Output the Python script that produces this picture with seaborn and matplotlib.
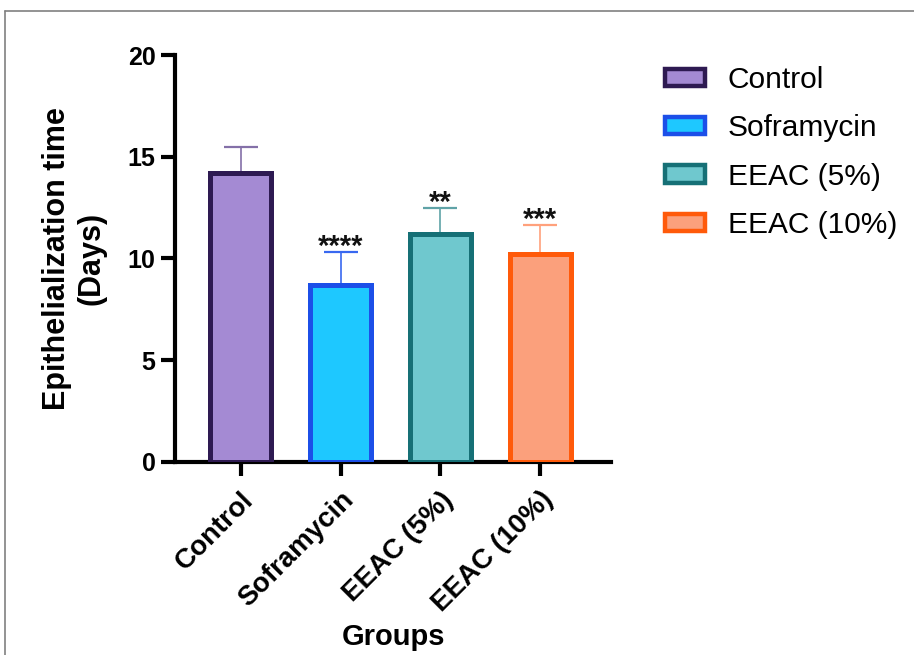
import matplotlib
matplotlib.use("Agg")
import matplotlib.pyplot as plt
from matplotlib.patches import Patch
from matplotlib.lines import Line2D
import seaborn as sns
import pandas as pd

# Group means and standard deviations (days to full epithelialization)
groups = ["Control", "Soframycin", "EEAC (5%)", "EEAC (10%)"]
mean_days = [14.2, 8.7, 11.2, 10.2]
sd_days = [1.3, 1.6, 1.3, 1.45]
signif = ["", "****", "**", "***"]

fill_colors = ["#A48AD3", "#1EC8FF", "#6FC8CE", "#FBA07C"]
edge_colors = ["#2E1A52", "#1C4FE8", "#167076", "#FF5A0A"]
err_colors = ["#8470A8", "#3868F0", "#5FA3A7", "#FFA17C"]

df = pd.DataFrame({"Groups": groups, "Days": mean_days})

sns.set_theme(style="white")
plt.rcParams["font.family"] = ["Liberation Sans", "DejaVu Sans"]
plt.rcParams["text.color"] = "black"
plt.rcParams["axes.labelcolor"] = "black"
plt.rcParams["xtick.color"] = "black"
plt.rcParams["ytick.color"] = "black"

fig = plt.figure(figsize=(9.14, 6.55), dpi=100)
ax = fig.add_axes([0.1915, 0.2951, 0.477, 0.6209])

sns.barplot(data=df, x="Groups", y="Days", hue="Groups", order=groups,
            hue_order=groups, palette=fill_colors, saturation=1, width=0.61,
            errorbar=None, legend=False, ax=ax, zorder=3)

bars = list(ax.patches)
for bar, ec in zip(bars, edge_colors):
    bar.set_edgecolor(ec)
    bar.set_linewidth(3.6)

# upper-only SD error bars and significance marks
for bar, m, sd, c, s in zip(bars, mean_days, sd_days, err_colors, signif):
    xc = bar.get_x() + bar.get_width() / 2
    ax.errorbar(xc, m, yerr=[[0], [sd]], fmt="none", ecolor=c,
                elinewidth=1.2, capsize=12, capthick=1.6, zorder=2)
    if s:
        ax.text(xc, m + sd - 0.15, s, ha="center", va="baseline",
                fontsize=21, fontweight="bold", color="#111111")

ax.set_ylim(0, 20)
ax.set_xlim(-0.66, 3.71)
ax.set_yticks([0, 5, 10, 15, 20])

for side in ["top", "right"]:
    ax.spines[side].set_visible(False)
for side in ["left", "bottom"]:
    ax.spines[side].set_linewidth(3.0)
    ax.spines[side].set_color("black")

ax.tick_params(axis="both", which="major", direction="out", length=10,
               width=3.0, color="black", bottom=True, left=True)
ax.tick_params(axis="y", labelsize=18, pad=4)
ax.tick_params(axis="x", labelsize=20, pad=8)
for lab in ax.get_yticklabels():
    lab.set_fontweight("bold")
for lab in ax.get_xticklabels():
    lab.set_fontweight("bold")
    lab.set_rotation(45)
    lab.set_ha("right")
    lab.set_va("top")
    lab.set_rotation_mode("anchor")

ax.set_ylabel("Epithelialization time\n(Days)", fontsize=22,
              fontweight="bold", labelpad=15)
ax.set_xlabel("Groups", fontsize=21, fontweight="bold", va="center")
ax.xaxis.set_label_coords(0.5, -0.431)

handles = [Patch(facecolor=f, edgecolor=e, linewidth=3.2, label=g)
           for f, e, g in zip(fill_colors, edge_colors, groups)]
fig.legend(handles=handles, loc="upper left",
           bbox_to_anchor=(665 / 914, 1 - 66 / 655), frameon=False,
           fontsize=21.5, handlelength=1.35, handleheight=0.5,
           handletextpad=0.75, labelspacing=0.68, borderpad=0,
           borderaxespad=0)

# thin frame along the top and left edges of the figure
fig.add_artist(Line2D([5 / 914, 1.0], [1 - 11 / 655, 1 - 11 / 655],
                      transform=fig.transFigure, color="#808080", lw=1.2))
fig.add_artist(Line2D([5 / 914, 5 / 914], [0.0, 1 - 11 / 655],
                      transform=fig.transFigure, color="#808080", lw=1.2))

fig.savefig("out.png", dpi=100)
